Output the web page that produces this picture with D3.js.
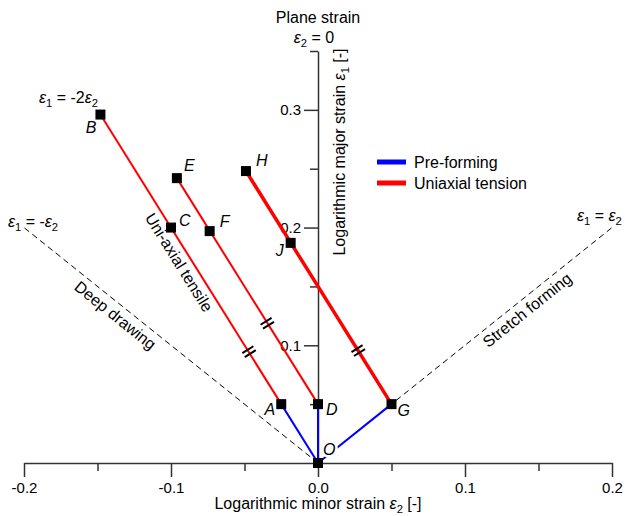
<!DOCTYPE html>
<html>
<head>
<meta charset="utf-8">
<script src="https://cdn.jsdelivr.net/npm/d3@7"></script>
<style>
  body { margin: 0; background: #fff; }
  svg { display: block; font-family: "Liberation Sans", Arial, sans-serif; }
</style>
</head>
<body>
<svg id="chart" width="625" height="516"></svg>
<script>
// Strain states: minor strain ε2 and major strain ε1
const pointNames  = ["O", "A", "D", "G", "B", "C", "E", "F", "H", "J"];
const minorStrain = [0, -0.025, 0, 0.05, -0.148, -0.1, -0.096, -0.0737, -0.049, -0.0186];
const majorStrain = [0, 0.05, 0.05, 0.05, 0.296, 0.2, 0.242, 0.197, 0.248, 0.187];

// Strain paths between states
const preFormingPaths = [["O", "A"], ["O", "D"], ["O", "G"]];
const uniaxialPaths   = [["A", "B"], ["D", "E"], ["G", "H"]];

// Break symbols on the uniaxial paths
const breakPath  = ["AB", "DE", "GH"];
const breakMinor = [-0.0469, -0.0345, 0.0274];
const breakMajor = [0.0946, 0.1187, 0.0955];

// Reference strain-ratio lines (ε1 = -ε2 and ε1 = ε2)
const refMinorEnd = [-0.2, 0.2];
const refMajorEnd = [0.2, 0.2];

// Axis ticks
const xMajorTicks = [-0.2, -0.1, 0, 0.1, 0.2];
const xMinorTicks = [-0.15, -0.05, 0.05, 0.15];
const yMajorTicks = [0.1, 0.2, 0.3];
const yMinorTicks = [0.05, 0.15, 0.25, 0.35];

// Legend entries
const legendNames  = ["Pre-forming", "Uniaxial tension"];
const legendColors = ["#0000ff", "#ff0000"];

const svg = d3.select("#chart");
const x = d3.scaleLinear().domain([-0.2, 0.2]).range([24, 612]);
const y = d3.scaleLinear().domain([0, 0.35]).range([463, 51]);

const pt = {};
pointNames.forEach((n, i) => { pt[n] = { e2: minorStrain[i], e1: majorStrain[i] }; });

const axisColor = "#333";

// ---- axes ----
svg.append("g").attr("transform", `translate(0,${y(0)})`)
  .call(d3.axisBottom(x).tickValues(xMajorTicks).tickSize(14).tickSizeOuter(0)
    .tickPadding(5).tickFormat(d => d.toFixed(1)));
svg.append("g").attr("transform", `translate(0,${y(0)})`)
  .call(d3.axisBottom(x).tickValues(xMinorTicks).tickSize(8).tickSizeOuter(0).tickFormat(""))
  .select(".domain").remove();

svg.append("g").attr("transform", `translate(${x(0)},0)`)
  .call(d3.axisLeft(y).tickValues(yMajorTicks).tickSize(14).tickSizeOuter(0)
    .tickPadding(3).tickFormat(d => d.toFixed(1)));
svg.append("g").attr("transform", `translate(${x(0)},0)`)
  .call(d3.axisLeft(y).tickValues(yMinorTicks).tickSize(8).tickSizeOuter(0).tickFormat(""))
  .select(".domain").remove();

svg.selectAll(".domain, .tick line").attr("stroke", axisColor).attr("stroke-width", 1.5);
svg.selectAll(".tick text").attr("font-size", 15).attr("fill", "#000")
  .attr("font-family", '"Liberation Sans", Arial, sans-serif');

// text with subscripts: parts = [[string, isSub, italic]]
function richText(sel, parts, size) {
  let lastSub = false;
  parts.forEach(([s, isSub, ital]) => {
    const t = sel.append("tspan").text(s);
    if (ital) t.attr("font-style", "italic");
    if (isSub) t.attr("font-size", size * 0.7).attr("dy", 4);
    else t.attr("dy", lastSub ? -4 : 0);
    lastSub = isSub;
  });
  return sel;
}

// axis titles
richText(svg.append("text").attr("x", 318).attr("y", 509).attr("text-anchor", "middle")
  .attr("font-size", 16),
  [["Logarithmic minor strain ", false], ["ε", false, true], ["2", true], [" [-]", false]], 16);

richText(svg.append("text").attr("transform", `translate(345,152) rotate(-90)`)
  .attr("text-anchor", "middle").attr("font-size", 16),
  [["Logarithmic major strain ", false], ["ε", false, true], ["1", true], [" [-]", false]], 16);

svg.append("text").attr("x", 318).attr("y", 23).attr("text-anchor", "middle")
  .attr("font-size", 16).text("Plane strain");
richText(svg.append("text").attr("x", 314).attr("y", 43).attr("text-anchor", "middle")
  .attr("font-size", 16),
  [["ε", false, true], ["2", true], [" = 0", false]], 16);

// ---- reference dashed lines ----
refMinorEnd.forEach((e2, i) => {
  svg.append("line")
    .attr("x1", x(0)).attr("y1", y(0))
    .attr("x2", x(e2)).attr("y2", y(refMajorEnd[i]))
    .attr("stroke", "#000").attr("stroke-width", 1).attr("stroke-dasharray", "6,4");
});

richText(svg.append("text").attr("x", 8).attr("y", 227).attr("font-size", 16),
  [["ε", false, true], ["1", true], [" = -", false], ["ε", false, true], ["2", true]], 16);
richText(svg.append("text").attr("x", 577).attr("y", 221).attr("font-size", 16),
  [["ε", false, true], ["1", true], [" = ", false], ["ε", false, true], ["2", true]], 16);
richText(svg.append("text").attr("x", 98).attr("y", 103).attr("text-anchor", "end").attr("font-size", 16),
  [["ε", false, true], ["1", true], [" = -2", false], ["ε", false, true], ["2", true]], 16);

// labels running along lines
function alongLabel(text, e2, e1, p0, p1, offset) {
  const dx = x(p1.e2) - x(p0.e2), dy = y(p1.e1) - y(p0.e1);
  const ang = Math.atan2(dy, dx) * 180 / Math.PI;
  svg.append("text")
    .attr("transform", `translate(${x(e2)},${y(e1)}) rotate(${ang})`)
    .attr("y", offset).attr("text-anchor", "middle").attr("font-size", 16).text(text);
}
alongLabel("Deep drawing", -0.133, 0.133, { e2: -0.2, e1: 0.2 }, { e2: 0, e1: 0 }, 17);
alongLabel("Uni-axial tensile", -0.0879, 0.1756, pt.B, pt.A, 17);
alongLabel("Stretch forming", 0.1374, 0.1376, { e2: 0, e1: 0 }, { e2: 0.2, e1: 0.2 }, 17);

// ---- strain paths ----
preFormingPaths.forEach(([a, b]) => {
  svg.append("line")
    .attr("x1", x(pt[a].e2)).attr("y1", y(pt[a].e1))
    .attr("x2", x(pt[b].e2)).attr("y2", y(pt[b].e1))
    .attr("stroke", legendColors[0]).attr("stroke-width", 2);
});
uniaxialPaths.forEach(([a, b]) => {
  svg.append("line")
    .attr("x1", x(pt[a].e2)).attr("y1", y(pt[a].e1))
    .attr("x2", x(pt[b].e2)).attr("y2", y(pt[b].e1))
    .attr("stroke", legendColors[1]).attr("stroke-width", a === "G" ? 3.5 : 2);
});

// break symbols: two short strokes across the path
breakPath.forEach((p, i) => {
  const a = pt[p[0]], b = pt[p[1]];
  let ux = x(b.e2) - x(a.e2), uy = y(b.e1) - y(a.e1);
  const len = Math.hypot(ux, uy); ux /= len; uy /= len;
  const nx = uy, ny = -ux;           // perpendicular direction
  const cx = x(breakMinor[i]), cy = y(breakMajor[i]);
  [-2.3, 2.3].forEach(s => {
    const mx = cx + s * ux, my = cy + s * uy;
    svg.append("line")
      .attr("x1", mx - 6.5 * nx).attr("y1", my - 6.5 * ny)
      .attr("x2", mx + 6.5 * nx).attr("y2", my + 6.5 * ny)
      .attr("stroke", "#000").attr("stroke-width", 2);
  });
});

// ---- state markers ----
svg.selectAll("rect.state").data(pointNames).enter().append("rect")
  .attr("class", "state")
  .attr("x", n => x(pt[n].e2) - 5).attr("y", n => y(pt[n].e1) - 5)
  .attr("width", 10).attr("height", 10).attr("fill", "#000");

// label placement for each state (pixel offsets from the marker)
const labelOffset = {
  O: [5, -8, "start"], A: [-6, 11, "end"], D: [8, 11, "start"], G: [6, 12, "start"],
  B: [-4, 18, "end"], C: [8, -2, "start"], E: [7, -7, "start"], F: [10, -4, "start"],
  H: [10, -5, "start"], J: [-7, 13, "end"]
};
pointNames.forEach(n => {
  const [ox, oy, anchor] = labelOffset[n];
  const t = svg.append("text")
    .attr("x", x(pt[n].e2) + ox).attr("y", y(pt[n].e1) + oy)
    .attr("text-anchor", anchor).attr("font-size", 16).attr("font-style", "italic").text(n);
  if (n === "O") t.attr("stroke", "#fff").attr("stroke-width", 5)
    .attr("paint-order", "stroke").attr("stroke-linejoin", "round");
});

// ---- legend ----
legendNames.forEach((name, i) => {
  const ly = 162 + i * 21;
  svg.append("line").attr("x1", 377).attr("x2", 406).attr("y1", ly).attr("y2", ly)
    .attr("stroke", legendColors[i]).attr("stroke-width", 5);
  svg.append("text").attr("x", 414).attr("y", ly + 5.5).attr("font-size", 16).text(name);
});
</script>
</body>
</html>
